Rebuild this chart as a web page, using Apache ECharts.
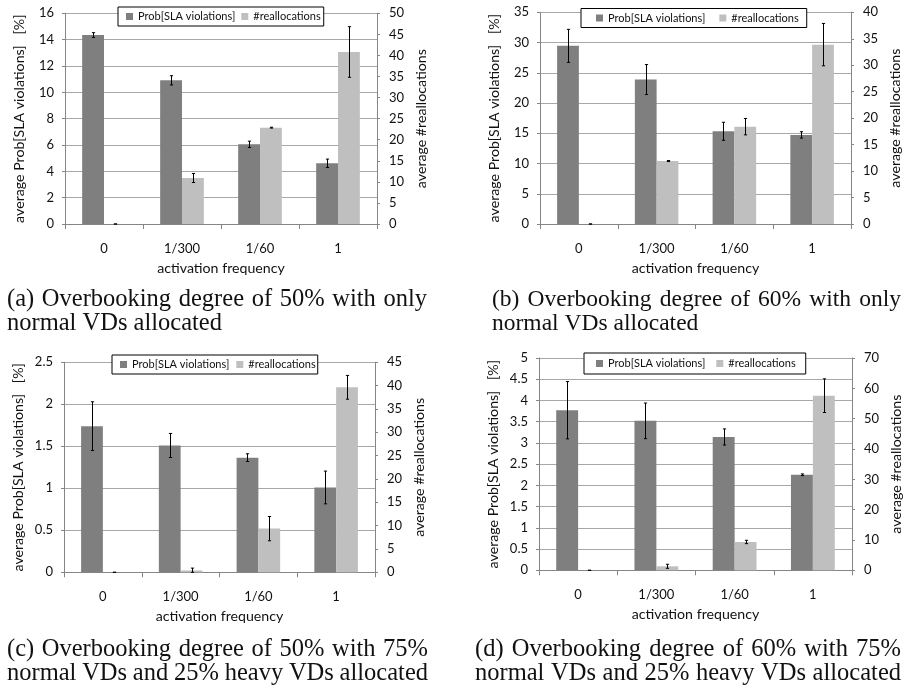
<!DOCTYPE html>
<html><head><meta charset="utf-8">
<script src="https://cdn.jsdelivr.net/npm/echarts@6/dist/echarts.min.js"></script>
<style>html,body{margin:0;padding:0;background:#fff}#c{width:906px;height:686px}</style>
</head><body><div id="c"></div>
<script>
// ---------------- data ----------------
const categories = ['0', '1/300', '1/60', '1'];
const seriesNames = ['Prob[SLA violations]', '#reallocations'];

// (a) overbooking 50%, only normal VDs
const aProb = [14.35, 10.91, 6.05, 4.61];
const aProbErr = [0.18, 0.35, 0.24, 0.32];
const aRealloc = [0, 10.92, 22.86, 40.82];
const aReallocErr = [0, 1.07, 0.1, 6.0];
const aLeftTicks = [0, 2, 4, 6, 8, 10, 12, 14, 16];
const aRightTicks = [0, 5, 10, 15, 20, 25, 30, 35, 40, 45, 50];

// (b) overbooking 60%, only normal VDs
const bProb = [29.45, 23.88, 15.33, 14.73];
const bProbErr = [2.73, 2.48, 1.49, 0.53];
const bRealloc = [0, 11.9, 18.39, 33.89];
const bReallocErr = [0, 0.1, 1.55, 4.0];
const bLeftTicks = [0, 5, 10, 15, 20, 25, 30, 35];
const bRightTicks = [0, 5, 10, 15, 20, 25, 30, 35, 40];

// (c) overbooking 50%, 75% normal / 25% heavy
const cProb = [1.74, 1.51, 1.365, 1.01];
const cProbErr = [0.29, 0.143, 0.046, 0.195];
const cRealloc = [0, 0.4, 9.36, 39.64];
const cReallocErr = [0, 0.5, 2.6, 2.55];
const cLeftTicks = [0, 0.5, 1, 1.5, 2, 2.5];
const cRightTicks = [0, 5, 10, 15, 20, 25, 30, 35, 40, 45];

// (d) overbooking 60%, 75% normal / 25% heavy
const dProb = [3.77, 3.52, 3.14, 2.25];
const dProbErr = [0.675, 0.42, 0.19, 0.02];
const dRealloc = [0, 1.32, 9.34, 57.58];
const dReallocErr = [0, 0.66, 0.55, 5.55];
const dLeftTicks = [0, 0.5, 1, 1.5, 2, 2.5, 3, 3.5, 4, 4.5, 5];
const dRightTicks = [0, 10, 20, 30, 40, 50, 60, 70];

const xAxisName = 'activation frequency';
const leftAxisName = 'average Prob[SLA violations]   [%]';
const rightAxisName = 'average #reallocations';

const captionLines = [
  ['(a) Overbooking degree of 50% with only', 'normal VDs allocated'],
  ['(b) Overbooking degree of 60% with only', 'normal VDs allocated'],
  ['(c) Overbooking degree of 50% with 75%', 'normal VDs and 25% heavy VDs allocated'],
  ['(d) Overbooking degree of 60% with 75%', 'normal VDs and 25% heavy VDs allocated']
];

// ---------------- layout / style ----------------
const panels = [
  {prob: aProb, probErr: aProbErr, re: aRealloc, reErr: aReallocErr, lt: aLeftTicks, rt: aRightTicks,
   grid: {left: 65, top: 13.3, width: 312, height: 210.7},
   legend: {left: 118, top: 7, padding: [4, 3, 4, 8], itemGap: 6},
   cap: {x0: 7, x1: 427, y: 307.3, scale: 1, justify: [true, false]}},
  {prob: bProb, probErr: bProbErr, re: bRealloc, reErr: bReallocErr, lt: bLeftTicks, rt: bRightTicks,
   grid: {left: 540, top: 12.3, width: 311, height: 211.7},
   legend: {left: 581, top: 8.5, padding: [4, 8, 4, 15], itemGap: 14},
   cap: {x0: 492, x1: 901, y: 307.3, scale: 0.96, justify: [true, false]}},
  {prob: cProb, probErr: cProbErr, re: cRealloc, reErr: cReallocErr, lt: cLeftTicks, rt: cRightTicks,
   grid: {left: 64, top: 362.3, width: 311, height: 210},
   legend: {left: 112, top: 355, padding: [4, 2, 4, 8], itemGap: 7},
   cap: {x0: 7, x1: 428, y: 657, scale: 1, justify: [true, true]}},
  {prob: dProb, probErr: dProbErr, re: dRealloc, reErr: dReallocErr, lt: dLeftTicks, rt: dRightTicks,
   grid: {left: 539, top: 358, width: 313, height: 212.3},
   legend: {left: 584, top: 353, padding: [5, 10, 5, 12], itemGap: 11},
   cap: {x0: 475, x1: 901, y: 657, scale: 1, justify: [true, true]}}
];

const DARK = '#7f7f7f', LIGHT = '#bfbfbf';
const AXIS_COLOR = '#868686', GRID_COLOR = '#a8a8a8';
const FONT = 'Lato';
const LABEL_SIZE = 13;
const NAME_SIZE = 14.2;
const CAT_GAP = 0.44;

function errRender(side) {
  return function (params, api) {
    const i = api.value(0), v = api.value(1), e = api.value(2);
    const band = api.coord([1, 0])[0] - api.coord([0, 0])[0];
    const bw = band * (1 - CAT_GAP) / 2;
    const cx = api.coord([i, v])[0] + side * bw / 2;
    const yt = api.coord([i, v + e])[1];
    const yb = api.coord([i, Math.max(v - e, 0)])[1];
    const x = Math.round(cx) + 0.5;
    const cap = 1.6;
    const st = {stroke: '#000', lineWidth: 1};
    return {type: 'group', children: [
      {type: 'line', shape: {x1: x, y1: yt, x2: x, y2: yb}, style: st},
      {type: 'line', shape: {x1: x - cap, y1: yt, x2: x + cap, y2: yt}, style: st},
      {type: 'line', shape: {x1: x - cap, y1: yb, x2: x + cap, y2: yb}, style: st}
    ]};
  };
}

const labelStyle = {fontFamily: FONT, fontSize: LABEL_SIZE, color: '#111'};
const nameStyle = {fontFamily: FONT, fontSize: NAME_SIZE, color: '#111'};
const grids = [], xAxes = [], yAxes = [], series = [], legends = [];

panels.forEach((p, gi) => {
  grids.push(Object.assign({containLabel: false}, p.grid));
  xAxes.push({
    type: 'category', gridIndex: gi, data: categories,
    name: xAxisName, nameLocation: 'middle', nameGap: 37,
    nameTextStyle: nameStyle,
    axisLine: {show: true, lineStyle: {color: AXIS_COLOR, width: 1}},
    axisTick: {show: true, length: 5, alignWithLabel: false, lineStyle: {color: AXIS_COLOR}},
    axisLabel: Object.assign({margin: 18, interval: 0}, labelStyle),
    splitLine: {show: false}
  });
  const lt = p.lt, rt = p.rt;
  yAxes.push({
    type: 'value', gridIndex: gi, position: 'left',
    min: lt[0], max: lt[lt.length - 1], interval: lt[1] - lt[0],
    name: leftAxisName, nameLocation: 'middle', nameGap: 39,
    nameTextStyle: nameStyle,
    axisLine: {show: true, lineStyle: {color: AXIS_COLOR}},
    axisTick: {show: true, length: 3, lineStyle: {color: AXIS_COLOR}},
    axisLabel: Object.assign({margin: 11}, labelStyle),
    splitLine: {show: true, lineStyle: {color: GRID_COLOR, width: 1}}
  });
  yAxes.push({
    type: 'value', gridIndex: gi, position: 'right',
    min: rt[0], max: rt[rt.length - 1], interval: rt[1] - rt[0],
    name: rightAxisName, nameLocation: 'middle', nameGap: 37,
    nameTextStyle: nameStyle,
    axisLine: {show: true, lineStyle: {color: AXIS_COLOR}},
    axisTick: {show: true, length: 3, lineStyle: {color: AXIS_COLOR}},
    axisLabel: Object.assign({margin: 12}, labelStyle),
    splitLine: {show: false}
  });
  const yl = gi * 2, yr = gi * 2 + 1;
  series.push({
    name: seriesNames[0], type: 'bar', xAxisIndex: gi, yAxisIndex: yl,
    data: p.prob, barGap: '0%', barCategoryGap: (CAT_GAP * 100) + '%',
    itemStyle: {color: DARK}
  });
  series.push({
    name: seriesNames[1], type: 'bar', xAxisIndex: gi, yAxisIndex: yr,
    data: p.re, barGap: '0%', barCategoryGap: (CAT_GAP * 100) + '%',
    itemStyle: {color: LIGHT}
  });
  series.push({
    name: 'errProb' + gi, type: 'custom', xAxisIndex: gi, yAxisIndex: yl, z: 5,
    renderItem: errRender(-1), encode: {x: 0, y: 1},
    data: p.prob.map((v, i) => [i, v, p.probErr[i]])
  });
  series.push({
    name: 'errRe' + gi, type: 'custom', xAxisIndex: gi, yAxisIndex: yr, z: 5,
    renderItem: errRender(1), encode: {x: 0, y: 1},
    data: p.re.map((v, i) => [i, v, p.reErr[i]])
  });
  legends.push(Object.assign({
    orient: 'horizontal', data: seriesNames, icon: 'rect',
    itemWidth: 7, itemHeight: 7,
    borderColor: '#000', borderWidth: 1, backgroundColor: '#fff', borderRadius: 0,
    textStyle: {fontFamily: FONT, fontSize: 11, color: '#111'},
    selectedMode: false, z: 10
  }, p.legend));
});

// captions (serif, justified like the LaTeX sub-captions)
const CAP_FAMILY = '"Liberation Serif"';
const mctx = document.createElement('canvas').getContext('2d');
function tw(text, fs) { mctx.font = fs + 'px ' + CAP_FAMILY; return mctx.measureText(text).width; }
const baseFs = 24 * 215 / tw('normal VDs allocated', 24);
const LINE_STEP = 24.6;
const graphics = [];
panels.forEach((p, gi) => {
  const fs = baseFs * p.cap.scale;
  captionLines[gi].forEach((line, li) => {
    const baseline = p.cap.y + li * LINE_STEP * p.cap.scale;
    const yMid = baseline - 0.32 * fs;
    const words = line.split(' ');
    let gap = tw(' ', fs);
    if (p.cap.justify[li]) {
      const total = words.reduce((s, w) => s + tw(w, fs), 0);
      gap = (p.cap.x1 - p.cap.x0 - total) / (words.length - 1);
    }
    let x = p.cap.x0;
    words.forEach(w => {
      graphics.push({type: 'text', x: x, y: yMid, silent: true,
        style: {text: w, font: fs.toFixed(2) + 'px ' + CAP_FAMILY, fill: '#111', align: 'left', verticalAlign: 'middle'}});
      x += tw(w, fs) + gap;
    });
  });
});

const chart = echarts.init(document.getElementById('c'), null, {renderer: 'canvas'});
chart.setOption({
  animation: false,
  backgroundColor: '#fff',
  grid: grids, xAxis: xAxes, yAxis: yAxes, series: series, legend: legends,
  graphic: graphics
});
</script></body></html>
